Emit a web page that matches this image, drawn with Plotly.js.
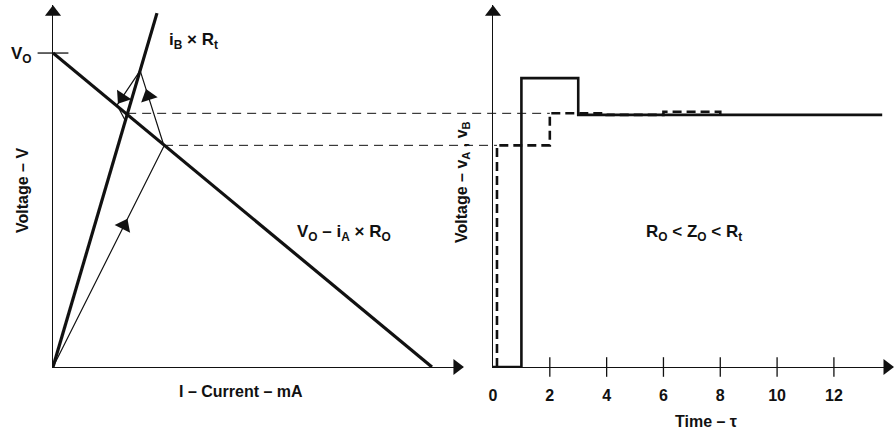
<!DOCTYPE html>
<html>
<head>
<meta charset="utf-8">
<script src="https://cdn.plot.ly/plotly-3.0.1.min.js"></script>
<style>html,body{margin:0;padding:0;background:#fff;}#chart{width:894px;height:435px;}</style>
</head>
<body>
<div id="chart"></div>
<script>
// ---- Left panel: load-line (Bergeron) diagram ----
var VO = 10;
var loadI = [0, 10];            // V = VO - iA*RO
var loadV = [10, 0];
var sourceI = [0, 2.744];       // V = iB*Rt
var sourceV = [0, 11.27];
var bounceI = [0, 2.93, 2.30, 1.69, 1.90, 1.99, 1.957];
var bounceV = [0, 7.04, 9.44, 8.34, 7.87, 8.15, 8.04];
var arrowSeg  = [0, 1, 2];      // segment of bounce path carrying an arrow
var arrowFrac = [0.64, 0.66, 0.78];

// ---- Right panel: time response ----
var vAt = [0, 1, 1, 3, 3, 13.7];
var vAv = [0, 0, 9.2, 9.2, 8.03, 8.03];
var vBt = [0.14, 0.14, 2, 2, 4, 4, 6, 6, 8, 8];
var vBv = [0, 7.06, 7.06, 8.08, 8.08, 8.03, 8.03, 8.13, 8.13, 8.03];
var timeTicks = [0, 2, 4, 6, 8, 10, 12];
var timeTickText = ['0', '2', '4', '6', '8', '10', '12'];

// ---- geometry ----
var W = 894, H = 435;
function px(x){ return x / W; }
function py(y){ return 1 - y / H; }
var xDomL = [px(53), px(463)], xDomR = [px(493), px(893)];
var yDom = [py(367), py(5)];
var xRangeL = [0, 10.82], xRangeR = [0, 14.08], yRange = [0, 11.53];
function paperX(dom, rng, v){ return dom[0] + (v - rng[0]) / (rng[1] - rng[0]) * (dom[1] - dom[0]); }
var pxPerI = (xDomL[1] - xDomL[0]) * W / (xRangeL[1] - xRangeL[0]);
var pxPerV = (yDom[1] - yDom[0]) * H / (yRange[1] - yRange[0]);

var FONT = 'Liberation Sans, Arial, Helvetica, sans-serif';
var black = '#111';

// arrowheads along the bounce path (positions derived from data)
var arrX = [], arrY = [], arrAng = [];
arrowSeg.forEach(function(s, k){
  var f = arrowFrac[k];
  var x0 = bounceI[s], y0 = bounceV[s], x1 = bounceI[s+1], y1 = bounceV[s+1];
  arrX.push(x0 + (x1 - x0) * f);
  arrY.push(y0 + (y1 - y0) * f);
  arrAng.push(Math.atan2((x1 - x0) * pxPerI, (y1 - y0) * pxPerV) * 180 / Math.PI);
});

var traces = [
  {x: loadI, y: loadV, mode: 'lines', line: {color: black, width: 3.2}, xaxis: 'x', yaxis: 'y'},
  {x: sourceI, y: sourceV, mode: 'lines', line: {color: black, width: 3.2}, xaxis: 'x', yaxis: 'y'},
  {x: bounceI, y: bounceV, mode: 'lines', line: {color: black, width: 1.2}, xaxis: 'x', yaxis: 'y'},
  {x: arrX, y: arrY, mode: 'markers', marker: {symbol: 'triangle-up', size: 15, color: black, angle: arrAng},
   xaxis: 'x', yaxis: 'y'},
  // axis arrowheads left
  {x: [0, 10.66], y: [11.3, 0], mode: 'markers', cliponaxis: false,
   marker: {symbol: ['triangle-up', 'triangle-right'], size: 14, color: black}, xaxis: 'x', yaxis: 'y'},
  // V_O tick
  {x: [0], y: [VO], mode: 'markers', cliponaxis: false,
   marker: {symbol: 'line-ew', size: 22, line: {color: black, width: 1.3}}, xaxis: 'x', yaxis: 'y'},
  // right panel
  {x: vAt, y: vAv, mode: 'lines', line: {color: black, width: 2.6}, xaxis: 'x2', yaxis: 'y2', cliponaxis: false},
  {x: vBt, y: vBv, mode: 'lines', line: {color: black, width: 2.6, dash: '9px,5px'}, xaxis: 'x2', yaxis: 'y2', cliponaxis: false},
  {x: timeTicks.slice(1), y: timeTicks.slice(1).map(function(){return 0;}), mode: 'markers', cliponaxis: false,
   marker: {symbol: 'line-ns', size: 14, line: {color: black, width: 1.3}}, xaxis: 'x2', yaxis: 'y2'},
  {x: [0, 13.87], y: [11.3, 0], mode: 'markers', cliponaxis: false,
   marker: {symbol: ['triangle-up', 'triangle-right'], size: 14, color: black}, xaxis: 'x2', yaxis: 'y2'}
];

var annotations = [];
function txt(t, x, y, size, angle){
  annotations.push({text: t, x: px(x), y: py(y), xref: 'paper', yref: 'paper', showarrow: false,
    textangle: angle || 0, xanchor: 'center', yanchor: 'middle',
    font: {family: FONT, size: size, color: black, weight: 'bold'}});
}
txt('V<sub>O</sub>', 21, 55, 17);
txt('i<sub>B</sub> × R<sub>t</sub>', 193, 41, 17);
txt('V<sub>O</sub> – i<sub>A</sub> × R<sub>O</sub>', 344, 233, 17);
txt('Voltage – V', 22, 191, 16, -90);
txt('I – Current – mA', 241, 391, 16);
txt('Voltage – v<sub>A</sub> , v<sub>B</sub>', 462, 182, 16, -90);
txt('R<sub>O</sub> &lt; Z<sub>O</sub> &lt; R<sub>t</sub>', 694, 233, 17);
txt('Time – τ', 706, 421, 16);

// dashed connectors from left-panel crossings to right-panel levels
var shapes = [
  {type: 'line', xref: 'paper', yref: 'y',
   x0: paperX(xDomL, xRangeL, bounceI[bounceI.length-1]), x1: paperX(xDomR, xRangeR, vBt[2]),
   y0: vBv[3], y1: vBv[3], line: {color: black, width: 1, dash: '9px,6px'}},
  {type: 'line', xref: 'paper', yref: 'y',
   x0: paperX(xDomL, xRangeL, bounceI[1]), x1: paperX(xDomR, xRangeR, vBt[0]),
   y0: vBv[1], y1: vBv[1], line: {color: black, width: 1, dash: '9px,6px'}}
];

var axBase = {showgrid: false, zeroline: false, showline: true, linecolor: black, linewidth: 1.3,
  ticks: '', fixedrange: true};
var layout = {
  width: W, height: H, margin: {l: 0, r: 0, t: 0, b: 0},
  paper_bgcolor: '#fff', plot_bgcolor: 'rgba(0,0,0,0)', showlegend: false,
  xaxis: Object.assign({}, axBase, {domain: xDomL, range: xRangeL, showticklabels: false, anchor: 'y'}),
  yaxis: Object.assign({}, axBase, {domain: yDom, range: yRange, showticklabels: false, anchor: 'x'}),
  xaxis2: Object.assign({}, axBase, {domain: xDomR, range: xRangeR, anchor: 'y2',
    tickvals: timeTicks, ticktext: timeTickText, ticklabelstandoff: 13,
    tickfont: {family: FONT, size: 16, color: black, weight: 'bold'}}),
  yaxis2: Object.assign({}, axBase, {domain: yDom, range: yRange, showticklabels: false, anchor: 'x2'}),
  annotations: annotations, shapes: shapes
};
Plotly.newPlot('chart', traces, layout, {staticPlot: true, displayModeBar: false});
</script>
</body>
</html>
